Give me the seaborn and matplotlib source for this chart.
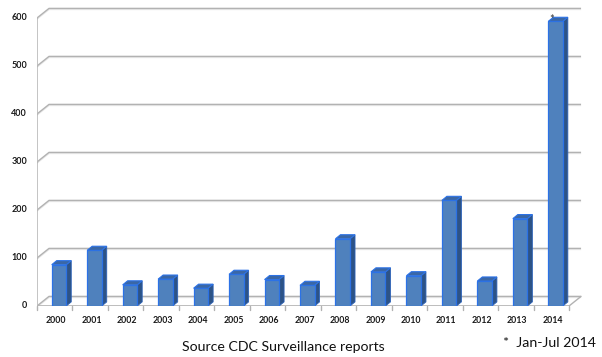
import matplotlib
matplotlib.use("Agg")
import matplotlib.pyplot as plt
from matplotlib.patches import Polygon
import seaborn as sns
import pandas as pd

# Measles cases by year
years = ["2000", "2001", "2002", "2003", "2004", "2005", "2006", "2007",
         "2008", "2009", "2010", "2011", "2012", "2013", "2014"]
cases = [86, 116, 44, 56, 37, 66, 55, 43, 140, 71, 63, 220, 52, 182, 593]
y_ticks = [0, 100, 200, 300, 400, 500, 600]
source_note = "Source CDC Surveillance reports"
partial_note = "*  Jan-Jul 2014"

sns.set_style("white")
plt.rcParams["font.family"] = ["Lato", "DejaVu Sans"]

W, H = 602, 357
fig = plt.figure(figsize=(W / 100, H / 100), dpi=100)

# pixel geometry of the plotting area
px_per_cat = 35.47
px_per_unit = 0.48
left_px, zero_px = 37, 306
x_lo, x_hi = -0.5, 14.95
y_lo, y_hi = 0, 630
ax = fig.add_axes([left_px / W, (H - zero_px) / H,
                   (x_hi - x_lo) * px_per_cat / W,
                   (y_hi - y_lo) * px_per_unit / H])

df = pd.DataFrame({"year": years, "cases": cases})
bar_w = 0.41
front = "#4f81bd"
sns.barplot(data=df, x="year", y="cases", color=front, width=bar_w,
            saturation=1, edgecolor="#2c72e6", linewidth=0.9, ax=ax, zorder=3)

# columns sit at mid-depth of the floor, so their front faces are nudged right
depth_shift = 0.12
for p in ax.patches:
    p.set_x(p.get_x() + depth_shift)

ax.set_xlim(x_lo, x_hi)
ax.set_ylim(y_lo, y_hi)
ax.axis("off")

# depth of the chart walls and of each column (data units)
wall_dx, wall_dy = 12 / px_per_cat, 20
col_dx, col_dy = 5 / px_per_cat, 8.5
grid_c = "#b2b2b2"

# back-wall gridlines with their diagonal connectors
for t in y_ticks:
    xs = [x_lo, x_lo + wall_dx, 14.5 + wall_dx]
    ys = [t, t + wall_dy, t + wall_dy]
    ax.plot(xs, [v - 2.2 for v in ys], color="#e6e6e6", lw=1.0, zorder=1,
            solid_capstyle="butt")
    ax.plot(xs, ys, color=grid_c, lw=1.0, zorder=1.5, solid_capstyle="butt")
    # tick mark on the front vertical axis
    ax.plot([x_lo - 4 / px_per_cat, x_lo], [t, t], color=grid_c, lw=1.0,
            zorder=1.5)
    ax.text(x_lo - 10 / px_per_cat, t, str(t), ha="right", va="center",
            fontsize=6.5, color="#1a1a1a", fontweight="bold")

# floor: right diagonal edge and front axis lines
ax.plot([14.5, 14.5 + wall_dx], [0, wall_dy], color=grid_c, lw=1.0, zorder=1.5)
ax.plot([x_lo, 14.5], [0, 0], color=grid_c, lw=1.2, zorder=2)
ax.plot([x_lo, x_lo], [0, 600], color="#bababa", lw=1.2, zorder=2)
for i in range(16):
    xb = i - 0.5
    ax.plot([xb, xb], [0, -8], color=grid_c, lw=1.0, zorder=2, clip_on=False)

# side and top faces of each column
for i, v in enumerate(cases):
    xr = i + depth_shift + bar_w / 2
    xl = i + depth_shift - bar_w / 2
    side = Polygon([(xr, 0), (xr + col_dx, col_dy), (xr + col_dx, v + col_dy), (xr, v)],
                   closed=True, facecolor="#2d5386", edgecolor="#2c62b8",
                   lw=0.6, zorder=2.9)
    top = Polygon([(xl, v), (xr, v), (xr + col_dx, v + col_dy), (xl + col_dx, v + col_dy)],
                  closed=True, facecolor="#3a67a6", edgecolor="#2c72e6",
                  lw=0.8, zorder=3.1)
    ax.add_patch(side)
    ax.add_patch(top)
    ax.text(i + 0.04, -30, years[i], ha="center", va="center", fontsize=6.3,
            color="#1a1a1a", fontweight="bold")

# asterisk marking the partial year
ax.text(14 + depth_shift - 0.12, cases[-1] + 4, "*", ha="center", va="center",
        fontsize=8, color="#333333", zorder=5)

fig.text(283 / W, 1 - 347 / H, source_note, ha="center", va="center",
         fontsize=10.2, color="#111111")
fig.text(503 / W, 1 - 343 / H, partial_note, ha="left", va="center",
         fontsize=10.2, color="#111111")

fig.savefig("out.png", dpi=100)
